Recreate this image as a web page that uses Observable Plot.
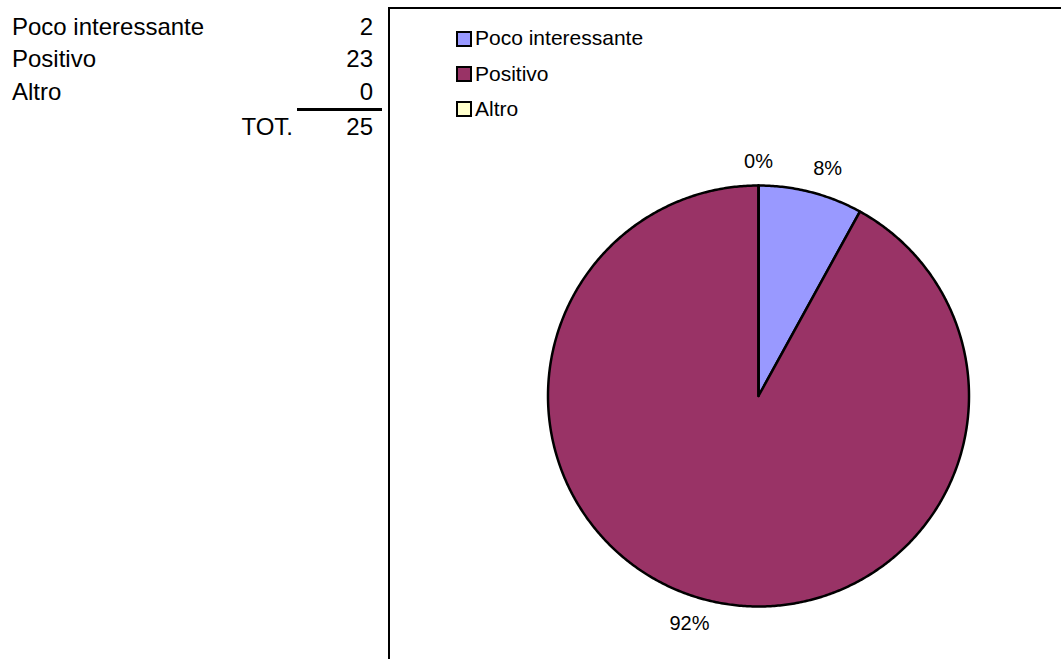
<!DOCTYPE html>
<html>
<head>
<meta charset="utf-8">
<script src="https://cdn.jsdelivr.net/npm/d3@7"></script>
<script src="https://cdn.jsdelivr.net/npm/@observablehq/plot@0.6"></script>
<style>
  html, body { margin: 0; padding: 0; background: #fff; }
  body { width: 1061px; height: 659px; position: relative; overflow: hidden;
         font-family: "Liberation Sans", Arial, sans-serif; color: #000; }
  .abs { position: absolute; white-space: nowrap; }
  .tbl { font-size: 24px; line-height: 24px; }
  .leg { font-size: 21px; line-height: 21px; }
  .sw { position: absolute; width: 16px; height: 16px; box-sizing: border-box; border: 2px solid #000; }
  #chart { position: absolute; left: 0; top: 0; }
</style>
</head>
<body>
<div id="chart"></div>
<div id="table"></div>
<div id="legend"></div>
<div class="abs" style="left:388px; top:7px; width:673px; height:2px; background:#000;"></div>
<div class="abs" style="left:388px; top:7px; width:2px; height:652px; background:#000;"></div>
<script>
// ---- data ----
const categories = ["Poco interessante", "Positivo", "Altro"];
const values = [2, 23, 0];
const colors = ["#9999FF", "#993366", "#FFFFCC"];
const totalLabel = "TOT.";

const total = d3.sum(values);

// ---- left table ----
const table = document.getElementById("table");
const rowTops = [14.7, 47.4, 80.4];
categories.forEach((c, i) => {
  const l = document.createElement("div");
  l.className = "abs tbl"; l.style.left = "12px"; l.style.top = rowTops[i] + "px";
  l.textContent = c; table.appendChild(l);
  const v = document.createElement("div");
  v.className = "abs tbl"; v.style.right = (1061 - 373) + "px"; v.style.top = rowTops[i] + "px";
  v.style.textAlign = "right"; v.textContent = values[i]; table.appendChild(v);
});
const rule = document.createElement("div");
rule.className = "abs"; rule.style.cssText += "left:297px; top:108px; width:85px; height:2.5px; background:#000;";
table.appendChild(rule);
const tl = document.createElement("div");
tl.className = "abs tbl"; tl.style.right = (1061 - 293) + "px"; tl.style.top = "114.7px";
tl.textContent = totalLabel; table.appendChild(tl);
const tv = document.createElement("div");
tv.className = "abs tbl"; tv.style.right = (1061 - 373) + "px"; tv.style.top = "114.7px";
tv.textContent = total; table.appendChild(tv);

// ---- legend ----
const legend = document.getElementById("legend");
const legTops = [30.5, 66, 101];
categories.forEach((c, i) => {
  const s = document.createElement("div");
  s.className = "sw"; s.style.left = "456px"; s.style.top = legTops[i] + "px";
  s.style.background = colors[i]; legend.appendChild(s);
  const t = document.createElement("div");
  t.className = "abs leg"; t.style.left = "475px"; t.style.top = (legTops[i] - 3.3) + "px";
  t.textContent = c; legend.appendChild(t);
});

// ---- pie geometry from data ----
const arcs = d3.pie().sort(null).value(d => d.value)(
  categories.map((c, i) => ({cat: c, value: values[i]}))
);
const slicePts = [];
arcs.forEach(a => {
  const cat = a.data.cat;
  slicePts.push({cat, x: 0, y: 0});
  const n = Math.max(2, Math.ceil((a.endAngle - a.startAngle) / (Math.PI / 360)));
  for (let k = 0; k <= n; k++) {
    const t = a.startAngle + (a.endAngle - a.startAngle) * k / n;
    slicePts.push({cat, x: Math.sin(t), y: Math.cos(t)});
  }
  slicePts.push({cat, x: 0, y: 0});
});
const labels = arcs.map(a => {
  const m = (a.startAngle + a.endAngle) / 2;
  return {cat: a.data.cat, x: 1.32 * Math.sin(m), y: 1.115 * Math.cos(m),
          text: Math.round(a.data.value / total * 100) + "%"};
});

const plot = Plot.plot({
  width: 1061,
  height: 659,
  margin: 0,
  x: {domain: [-1, 1], range: [547.5, 968.5], axis: null},
  y: {domain: [-1, 1], range: [606, 185], axis: null},
  color: {domain: categories, range: colors},
  style: {fontFamily: "'Liberation Sans', Arial, sans-serif", background: "transparent", overflow: "visible"},
  marks: [
    Plot.line(slicePts, {x: "x", y: "y", z: "cat", fill: "cat", stroke: "#000",
      strokeWidth: 2.5, strokeLinejoin: "round", curve: "linear"}),
    Plot.text(labels, {x: "x", y: "y", text: "text", fontSize: 20, fill: "#000",
      textAnchor: "middle", lineAnchor: "middle"})
  ]
});
document.getElementById("chart").appendChild(plot);
</script>
</body>
</html>
